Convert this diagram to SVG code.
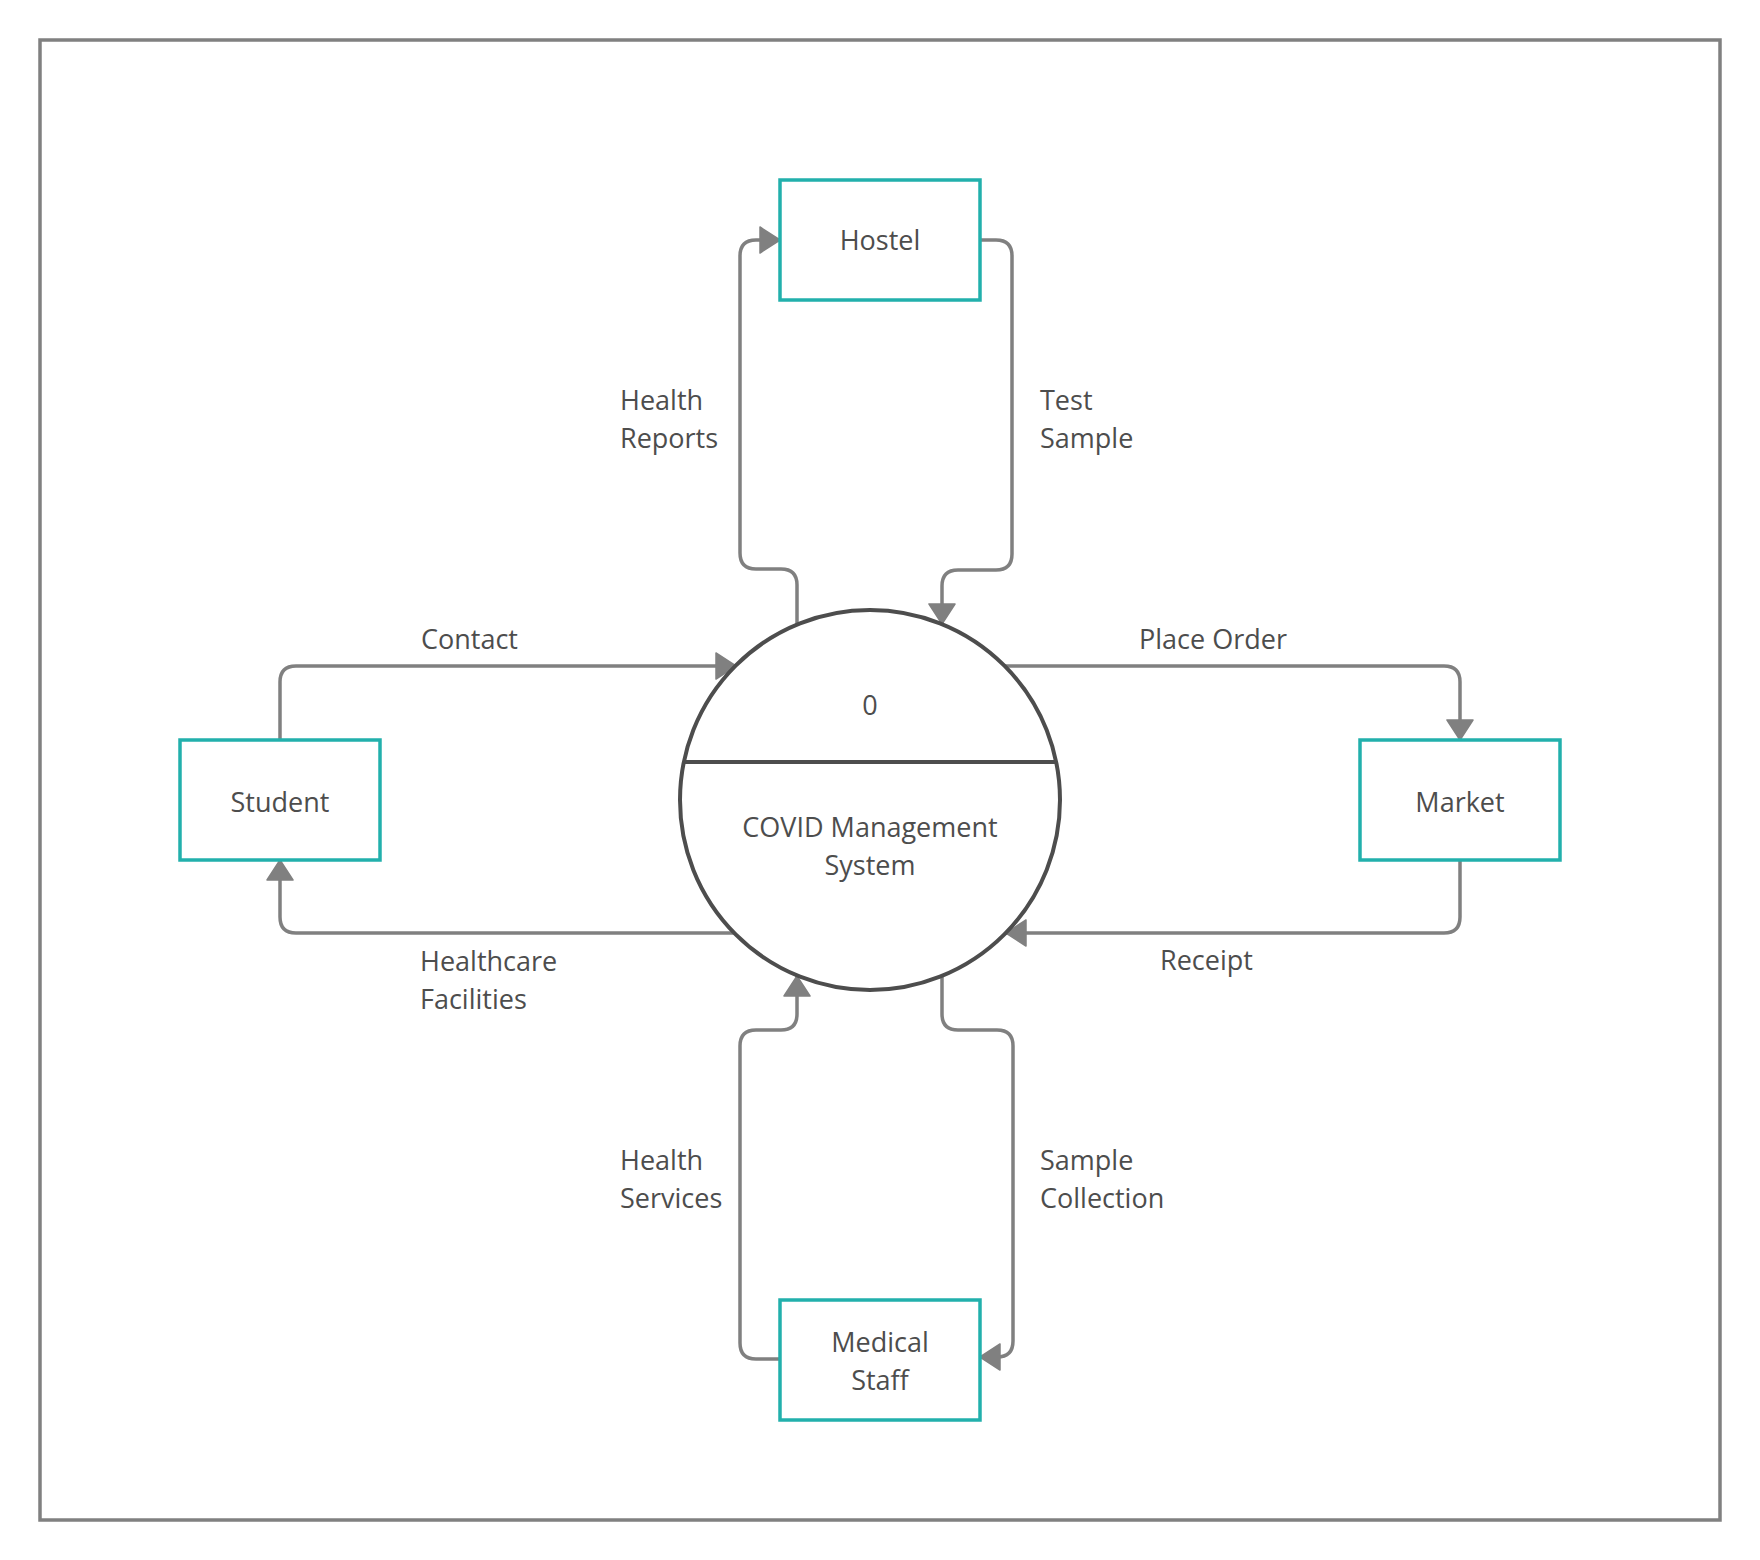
<svg xmlns="http://www.w3.org/2000/svg" width="1760" height="1560" viewBox="0 0 1760 1560">
<style>
.box{fill:#ffffff;stroke:#22b0ac;stroke-width:3.5}
.proc{fill:#ffffff;stroke:#4d4d4d;stroke-width:4}
.lbl{font-family:"Open Sans","Noto Sans",sans-serif;font-size:27px;fill:#4d4d4d}
.mid{text-anchor:middle}
.conn{fill:none;stroke:#808080;stroke-width:3.5;stroke-linejoin:round}
</style>
<defs>
<marker id="arr" markerUnits="userSpaceOnUse" viewBox="0 0 22 28" refX="21" refY="14" markerWidth="22" markerHeight="28" orient="auto">
<path d="M1,1 L21,14 L1,27 Z" fill="#808080" stroke="#808080" stroke-width="1.5" stroke-linejoin="round"/>
</marker>
</defs>
<rect x="40" y="40" width="1680" height="1480" fill="#ffffff" stroke="#808080" stroke-width="3.5"/>
<g id="connectors">
<path class="conn" marker-end="url(#arr)" d="M797,625 V585 Q797,569 781,569 H756 Q740,569 740,553 V256 Q740,240 756,240 H780"/>
<path class="conn" marker-end="url(#arr)" d="M980,240 H996 Q1012,240 1012,256 V554 Q1012,570 996,570 H958 Q942,570 942,586 V624"/>
<path class="conn" marker-end="url(#arr)" d="M280,740 V682 Q280,666 296,666 H736"/>
<path class="conn" marker-end="url(#arr)" d="M1005,666 H1444 Q1460,666 1460,682 V740"/>
<path class="conn" marker-end="url(#arr)" d="M1460,860 V917 Q1460,933 1444,933 H1006"/>
<path class="conn" marker-end="url(#arr)" d="M735,933 H296 Q280,933 280,917 V860"/>
<path class="conn" marker-end="url(#arr)" d="M780,1359 H756 Q740,1359 740,1343 V1046 Q740,1030 756,1030 H781 Q797,1030 797,1014 V976"/>
<path class="conn" marker-end="url(#arr)" d="M942,975 V1014 Q942,1030 958,1030 H997 Q1013,1030 1013,1046 V1341 Q1013,1357 997,1357 H980"/>
<text class="lbl" x="620" y="410">Health</text>
<text class="lbl" x="620" y="448">Reports</text>
<text class="lbl" x="1040" y="410">Test</text>
<text class="lbl" x="1040" y="448">Sample</text>
<text class="lbl" x="421" y="649">Contact</text>
<text class="lbl" x="1139" y="649">Place Order</text>
<text class="lbl" x="420" y="971">Healthcare</text>
<text class="lbl" x="420" y="1009">Facilities</text>
<text class="lbl" x="1160" y="970">Receipt</text>
<text class="lbl" x="620" y="1170">Health</text>
<text class="lbl" x="620" y="1208">Services</text>
<text class="lbl" x="1040" y="1170">Sample</text>
<text class="lbl" x="1040" y="1208">Collection</text>
</g>
<g id="process">
<circle class="proc" cx="870" cy="800" r="190"/>
<line x1="684" y1="762" x2="1056" y2="762" stroke="#4d4d4d" stroke-width="4"/>
<text class="lbl mid" x="870" y="715">0</text>
<text class="lbl mid" x="870" y="837">COVID Management</text>
<text class="lbl mid" x="870" y="875">System</text>
</g>
<g id="hostel">
<rect class="box" x="780" y="180" width="200" height="120"/>
<text class="lbl mid" x="880" y="250">Hostel</text>
</g>
<g id="student">
<rect class="box" x="180" y="740" width="200" height="120"/>
<text class="lbl mid" x="280" y="812">Student</text>
</g>
<g id="market">
<rect class="box" x="1360" y="740" width="200" height="120"/>
<text class="lbl mid" x="1460" y="812">Market</text>
</g>
<g id="medical-staff">
<rect class="box" x="780" y="1300" width="200" height="120"/>
<text class="lbl mid" x="880" y="1352">Medical</text>
<text class="lbl mid" x="880" y="1390">Staff</text>
</g>
</svg>
